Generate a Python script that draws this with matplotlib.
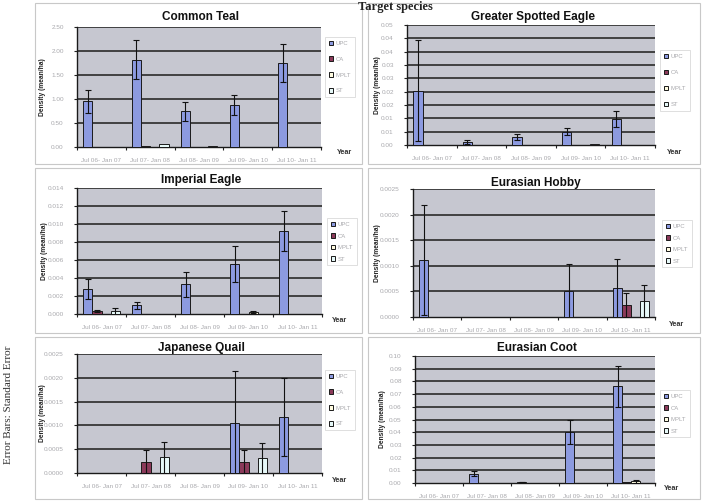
import matplotlib
matplotlib.use("Agg")
import matplotlib.pyplot as plt
import numpy as np
from matplotlib.patches import Rectangle

plt.rcParams['font.family'] = ['Liberation Sans', 'DejaVu Sans']

categories = ["Jul 06- Jan 07", "Jul 07- Jan 08", "Jul 08- Jan 09", "Jul 09- Jan 10", "Jul 10- Jan 11"]
series_names = ["UPC", "CA", "MPLT", "ST"]
series_colors = ["#8c9ae0", "#8b3a5a", "#fffbe0", "#e6f8f8"]

# ---- data: mean density (rows = series UPC, CA, MPLT, ST) and standard errors ----
teal_mean = [[0.95, 1.82, 0.74, 0.88, 1.75],
             [0.01, 0.02, 0.01, 0.01, 0.005],
             [0.0, 0.0, 0.0, 0.0, 0.0],
             [0.01, 0.06, 0.02, 0.0, 0.005]]
teal_se = [[0.24, 0.40, 0.20, 0.21, 0.40],
           [0, 0, 0, 0, 0],
           [0, 0, 0, 0, 0],
           [0, 0, 0, 0, 0]]

gse_mean = [[0.0204, 0.0012, 0.0029, 0.0050, 0.0097],
            [0, 0, 0, 0, 0],
            [0, 0, 0, 0, 0],
            [0, 0, 0, 0.0003, 0]]
gse_se = [[0.0188, 0.0008, 0.0011, 0.0013, 0.0030],
          [0, 0, 0, 0, 0],
          [0, 0, 0, 0, 0],
          [0, 0, 0, 0, 0]]

imperial_mean = [[0.0028, 0.00095, 0.0033, 0.0056, 0.0092],
                 [0.0003, 0, 0, 0, 0],
                 [0, 0, 0, 0.0002, 0],
                 [0.0003, 0, 0, 0, 0]]
imperial_se = [[0.0011, 0.00035, 0.0014, 0.0020, 0.0022],
               [0.0001, 0, 0, 0, 0],
               [0, 0, 0, 0.0001, 0],
               [0.0004, 0, 0, 0, 0]]

hobby_mean = [[0.00111, 0, 0, 0.00050, 0.00056],
              [0, 0, 0, 0, 0.00023],
              [0, 0, 0, 0, 0],
              [0, 0, 0, 0, 0.00031]]
hobby_se = [[0.00107, 0, 0, 0.00053, 0.00057],
            [0, 0, 0, 0, 0.00023],
            [0, 0, 0, 0, 0],
            [0, 0, 0, 0, 0.00031]]

quail_mean = [[0, 0, 0, 0.00106, 0.00117],
              [0, 0.00024, 0, 0.00024, 0],
              [0, 0, 0, 0, 0],
              [0, 0.00033, 0, 0.00031, 0]]
quail_se = [[0, 0, 0, 0.00108, 0.00082],
            [0, 0.00025, 0, 0.00025, 0],
            [0, 0, 0, 0, 0],
            [0, 0.00032, 0, 0.00033, 0]]

coot_mean = [[0.0003, 0.0074, 0.0007, 0.0400, 0.0763],
             [0, 0, 0, 0, 0.0005],
             [0, 0, 0, 0, 0.0012],
             [0, 0, 0, 0, 0]]
coot_se = [[0, 0.0021, 0.0002, 0.0095, 0.0161],
           [0, 0, 0, 0, 0],
           [0, 0, 0, 0, 0.0012],
           [0, 0, 0, 0, 0]]

teal_yticks = [0.0, 0.5, 1.0, 1.5, 2.0, 2.5]
teal_ylabels = ["0.00", "0.50", "1.00", "1.50", "2.00", "2.50"]
gse_yticks = [0.0, 0.005, 0.010, 0.015, 0.020, 0.025, 0.030, 0.035, 0.040, 0.045]
gse_ylabels = ["0.00", "0.01", "0.01", "0.02", "0.02", "0.03", "0.03", "0.04", "0.04", "0.05"]
imperial_yticks = [0.0, 0.002, 0.004, 0.006, 0.008, 0.010, 0.012, 0.014]
imperial_ylabels = ["0.000", "0.002", "0.004", "0.006", "0.008", "0.010", "0.012", "0.014"]
hobby_yticks = [0.0, 0.0005, 0.0010, 0.0015, 0.0020, 0.0025]
hobby_ylabels = ["0.0000", "0.0005", "0.0010", "0.0015", "0.0020", "0.0025"]
quail_yticks = [0.0, 0.0005, 0.0010, 0.0015, 0.0020, 0.0025]
quail_ylabels = ["0.0000", "0.0005", "0.0010", "0.0015", "0.0020", "0.0025"]
coot_yticks = [0.0, 0.01, 0.02, 0.03, 0.04, 0.05, 0.06, 0.07, 0.08, 0.09, 0.10]
coot_ylabels = ["0.00", "0.01", "0.02", "0.03", "0.04", "0.05", "0.06", "0.07", "0.08", "0.09", "0.10"]

titles = ["Common Teal", "Greater Spotted Eagle", "Imperial Eagle",
          "Eurasian Hobby", "Japanese Quail", "Eurasian Coot"]

W, H = 702, 501
fig = plt.figure(figsize=(W / 100, H / 100), dpi=100)
fig.patch.set_facecolor("white")


def fx(x):
    return x / W


def fy(y):
    return 1 - y / H


# panel frames
for (x0, y0, x1, y1) in [(35, 3, 362, 164), (368, 3, 700, 164),
                         (35, 168, 362, 333), (368, 168, 700, 333),
                         (35, 337, 362, 499), (368, 337, 700, 499)]:
    fig.add_artist(Rectangle((fx(x0), fy(y1)), fx(x1 - x0), (y1 - y0) / H,
                             transform=fig.transFigure, fill=False,
                             edgecolor="#c8c8c8", lw=0.8))

# layout per panel: axes px box (x0, y0, x1, y1), legend (x, ytop, spacing), year (x, y), ylabel x, title y
panels = [
    dict(box=(77, 27, 321, 147), leg=(325, 37, 1.75), year=(345, 152), ylx=43, ty=17,
         mean=teal_mean, se=teal_se, yt=teal_yticks, yl=teal_ylabels),
    dict(box=(407, 25, 655, 145), leg=(660, 50, 1.8), year=(675, 152), ylx=377, ty=17,
         mean=gse_mean, se=gse_se, yt=gse_yticks, yl=gse_ylabels),
    dict(box=(77, 188, 322, 314), leg=(327, 218, 1.05), year=(340, 320), ylx=45, ty=180,
         mean=imperial_mean, se=imperial_se, yt=imperial_yticks, yl=imperial_ylabels),
    dict(box=(413, 189, 655, 317), leg=(662, 220, 1.05), year=(677, 325), ylx=377, ty=183,
         mean=hobby_mean, se=hobby_se, yt=hobby_yticks, yl=hobby_ylabels),
    dict(box=(77, 354, 322, 473), leg=(325, 370, 1.75), year=(340, 481), ylx=42, ty=348,
         mean=quail_mean, se=quail_se, yt=quail_yticks, yl=quail_ylabels),
    dict(box=(415, 356, 655, 483), leg=(660, 390, 1.05), year=(672, 489), ylx=382, ty=348,
         mean=coot_mean, se=coot_se, yt=coot_yticks, yl=coot_ylabels),
]

x = np.arange(len(categories))
bw = 0.1875
faint = "#a9a9ad"

for title, p in zip(titles, panels):
    x0, y0, x1, y1 = p["box"]
    ax = fig.add_axes([fx(x0), fy(y1), fx(x1 - x0), (y1 - y0) / H])
    ax.set_facecolor("#c6c7d0")
    ax.set_xlim(-0.5, len(categories) - 0.5)
    ax.set_ylim(p["yt"][0], p["yt"][-1])
    ax.set_yticks(p["yt"])
    ax.set_yticklabels(p["yl"])
    for yv in p["yt"][1:]:
        ax.axhline(yv, color="#2a2a2a", lw=1.2, zorder=1)
    handles = []
    for i, name in enumerate(series_names):
        pos = x + (i - 1.5) * bw
        b = ax.bar(pos, p["mean"][i], width=bw, color=series_colors[i],
                   edgecolor="#1a1a1a", lw=0.7, zorder=3, label=name)
        handles.append(b)
        se = np.array(p["se"][i])
        m = np.array(p["mean"][i])
        mask = se > 0
        if mask.any():
            ax.errorbar(pos[mask], m[mask], yerr=se[mask], fmt="none",
                        ecolor="#111111", elinewidth=0.8, capsize=2.0,
                        capthick=0.8, zorder=4)
    ax.set_xticks(x)
    ax.set_xticklabels(categories)
    ax.set_xticks(np.arange(-0.5, len(categories), 1.0), minor=True)
    ax.tick_params(axis="x", which="major", length=0, labelsize=4.6,
                   labelcolor=faint, pad=8)
    ax.tick_params(axis="x", which="minor", length=2.5, width=0.8, color="#222222")
    ax.tick_params(axis="y", length=2.5, width=0.8, color="#222222",
                   labelsize=4.6, labelcolor=faint, pad=7)
    for s in ["top", "right"]:
        ax.spines[s].set_visible(False)
    for s in ["left", "bottom"]:
        ax.spines[s].set_color("#1a1a1a")
        ax.spines[s].set_linewidth(1.0)

    cx = (x0 + x1) / 2
    fig.text(fx(cx + 2), fy(p["ty"]), title, ha="center", va="center",
             fontsize=8.5, fontweight="bold", color="#111111")
    fig.text(fx(p["ylx"]), fy((y0 + y1) / 2), "Density (mean/ha)", rotation=90,
             ha="center", va="center", fontsize=4.8, fontweight="bold", color="#222222")
    fig.text(fx(p["year"][0]), fy(p["year"][1]), "Year", ha="center", va="center",
             fontsize=5.2, fontweight="bold", color="#333333")

    lx, ly, sp = p["leg"]
    leg = fig.legend(handles=handles, labels=series_names, loc="upper left",
                     bbox_to_anchor=(fx(lx), fy(ly)), bbox_transform=fig.transFigure,
                     fontsize=4.3, frameon=True, fancybox=False, labelspacing=sp,
                     handlelength=0.8, handleheight=0.8, handletextpad=0.4,
                     borderpad=0.6, borderaxespad=0.0, labelcolor=faint)
    leg.get_frame().set_edgecolor("#d0d0d0")
    leg.get_frame().set_linewidth(0.6)

fig.text(fx(9), fy(405), "Error Bars: Standard Error", rotation=90, ha="center",
         va="center", fontsize=8, color="#333333",
         family=["Liberation Serif", "DejaVu Serif"])

fig.text(fx(395), fy(1), "Target species", ha="center", va="top", fontsize=9,
         fontweight="bold", color="#222222", family=["Liberation Serif", "DejaVu Serif"])

fig.savefig("out.png", dpi=100)
